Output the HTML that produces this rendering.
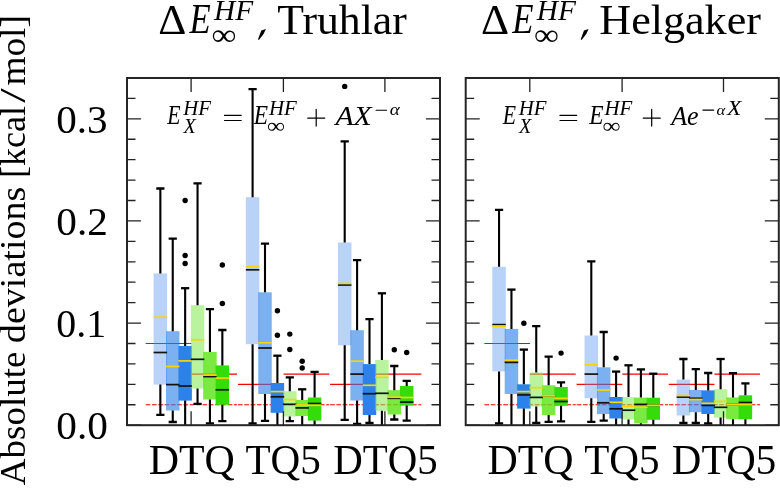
<!DOCTYPE html>
<html><head><meta charset="utf-8"><style>
html,body{margin:0;padding:0;background:#fff;width:780px;height:488px;overflow:hidden}
svg{display:block;will-change:transform}
text{font-family:"Liberation Serif",serif}
</style></head><body>
<svg width="780" height="488" viewBox="0 0 780 488">
<rect width="780" height="488" fill="#fff"/>
<line x1="145.7" y1="343.5" x2="191.35" y2="343.5" stroke="#ff0000" stroke-width="1.1"/>
<line x1="191.35" y1="374.13" x2="237" y2="374.13" stroke="#ff0000" stroke-width="1.1"/>
<line x1="145.7" y1="404.77" x2="237" y2="404.77" stroke="#ff0000" stroke-width="1.1" stroke-dasharray="4.7 1.6"/>
<line x1="237.95" y1="384.35" x2="283.6" y2="384.35" stroke="#ff0000" stroke-width="1.1"/>
<line x1="283.6" y1="374.13" x2="329.25" y2="374.13" stroke="#ff0000" stroke-width="1.1"/>
<line x1="237.95" y1="404.77" x2="329.25" y2="404.77" stroke="#ff0000" stroke-width="1.1" stroke-dasharray="4.7 1.6"/>
<line x1="330.05" y1="384.35" x2="375.7" y2="384.35" stroke="#ff0000" stroke-width="1.1"/>
<line x1="375.7" y1="374.13" x2="421.35" y2="374.13" stroke="#ff0000" stroke-width="1.1"/>
<line x1="330.05" y1="404.77" x2="421.35" y2="404.77" stroke="#ff0000" stroke-width="1.1" stroke-dasharray="4.7 1.6"/>
<rect x="153.6" y="273.4" width="13.5" height="111.2" fill="#508eee" fill-opacity="0.4"/>
<rect x="166" y="331.2" width="13.5" height="79.3" fill="#2c81e8" fill-opacity="0.62"/>
<rect x="178.4" y="346" width="13.5" height="54.6" fill="#2c82ea" fill-opacity="1.0"/>
<rect x="190.8" y="305.2" width="13.5" height="83.4" fill="#80e94f" fill-opacity="0.55"/>
<rect x="203.2" y="352" width="13.5" height="47.5" fill="#59e510" fill-opacity="0.8"/>
<rect x="215.6" y="365.4" width="13.5" height="39.4" fill="#34dc0a" fill-opacity="1.0"/>
<rect x="245.85" y="197.2" width="13.5" height="147" fill="#508eee" fill-opacity="0.4"/>
<rect x="258.25" y="292.3" width="13.5" height="101.7" fill="#2c81e8" fill-opacity="0.62"/>
<rect x="270.65" y="383" width="13.5" height="29.8" fill="#2c82ea" fill-opacity="1.0"/>
<rect x="283.05" y="391.2" width="13.5" height="25.3" fill="#80e94f" fill-opacity="0.55"/>
<rect x="295.45" y="400" width="13.5" height="16" fill="#59e510" fill-opacity="0.8"/>
<rect x="307.85" y="397.5" width="13.5" height="23.1" fill="#34dc0a" fill-opacity="1.0"/>
<rect x="337.95" y="242.5" width="13.5" height="102.8" fill="#508eee" fill-opacity="0.4"/>
<rect x="350.35" y="330.2" width="13.5" height="70.3" fill="#2c81e8" fill-opacity="0.62"/>
<rect x="362.75" y="364.1" width="13.5" height="50.9" fill="#2c82ea" fill-opacity="1.0"/>
<rect x="375.15" y="360" width="13.5" height="50.8" fill="#80e94f" fill-opacity="0.55"/>
<rect x="387.55" y="390.2" width="13.5" height="24.3" fill="#59e510" fill-opacity="0.8"/>
<rect x="399.95" y="386" width="13.5" height="19.5" fill="#34dc0a" fill-opacity="1.0"/>
<path d="M160.35 273.4V188.5M160.35 384.6V414.8" stroke="#000" stroke-width="2.1" fill="none"/>
<path d="M156.25 188.5H164.45M156.25 414.8H164.45" stroke="#000" stroke-width="2.3" fill="none"/>
<path d="M153.6 352.5H167.1" stroke="#111" stroke-width="1.7"/>
<path d="M153.6 317.2H167.1" stroke="#f8d600" stroke-width="1.7"/>
<path d="M172.75 331.2V238.6M172.75 410.5V422" stroke="#000" stroke-width="2.1" fill="none"/>
<path d="M168.65 238.6H176.85M168.65 422H176.85" stroke="#000" stroke-width="2.3" fill="none"/>
<path d="M166 384.6H179.5" stroke="#111" stroke-width="1.7"/>
<path d="M166 366.5H179.5" stroke="#f8d600" stroke-width="1.7"/>
<path d="M185.15 346V288.2M185.15 400.6V425.2" stroke="#000" stroke-width="2.1" fill="none"/>
<path d="M181.05 288.2H189.25" stroke="#000" stroke-width="2.3" fill="none"/>
<path d="M178.4 386H191.9" stroke="#111" stroke-width="1.7"/>
<path d="M178.4 360.9H191.9" stroke="#f8d600" stroke-width="1.7"/>
<circle cx="185.15" cy="200.5" r="2.7" fill="#000"/>
<circle cx="185.15" cy="255.5" r="2.7" fill="#000"/>
<circle cx="185.15" cy="263.5" r="2.7" fill="#000"/>
<path d="M197.55 305.2V183.3M197.55 388.6V403.8" stroke="#000" stroke-width="2.1" fill="none"/>
<path d="M193.45 183.3H201.65M193.45 403.8H201.65" stroke="#000" stroke-width="2.3" fill="none"/>
<path d="M190.8 359.3H204.3" stroke="#111" stroke-width="1.7"/>
<path d="M190.8 339.8H204.3" stroke="#f8d600" stroke-width="1.7"/>
<path d="M209.95 352V309.2M209.95 399.5V423.4" stroke="#000" stroke-width="2.1" fill="none"/>
<path d="M205.85 309.2H214.05M205.85 423.4H214.05" stroke="#000" stroke-width="2.3" fill="none"/>
<path d="M203.2 376.6H216.7" stroke="#111" stroke-width="1.7"/>
<path d="M203.2 375.1H216.7" stroke="#f8d600" stroke-width="1.7"/>
<path d="M222.35 365.4V330M222.35 404.8V421.1" stroke="#000" stroke-width="2.1" fill="none"/>
<path d="M218.25 330H226.45M218.25 421.1H226.45" stroke="#000" stroke-width="2.3" fill="none"/>
<path d="M215.6 389.8H229.1" stroke="#111" stroke-width="1.7"/>
<path d="M215.6 378.1H229.1" stroke="#f8d600" stroke-width="1.7"/>
<circle cx="222.35" cy="265" r="2.7" fill="#000"/>
<circle cx="222.35" cy="303.5" r="2.7" fill="#000"/>
<path d="M252.6 197.2V89.2M252.6 344.2V423.5" stroke="#000" stroke-width="2.1" fill="none"/>
<path d="M248.5 89.2H256.7M248.5 423.5H256.7" stroke="#000" stroke-width="2.3" fill="none"/>
<path d="M245.85 269.8H259.35" stroke="#111" stroke-width="1.7"/>
<path d="M245.85 266.7H259.35" stroke="#f8d600" stroke-width="1.7"/>
<path d="M265 292.3V243.6M265 394V420.8" stroke="#000" stroke-width="2.1" fill="none"/>
<path d="M260.9 243.6H269.1M260.9 420.8H269.1" stroke="#000" stroke-width="2.3" fill="none"/>
<path d="M258.25 348H271.75" stroke="#111" stroke-width="1.7"/>
<path d="M258.25 342.8H271.75" stroke="#f8d600" stroke-width="1.7"/>
<path d="M277.4 383V355.7M277.4 412.8V425.2" stroke="#000" stroke-width="2.1" fill="none"/>
<path d="M273.3 355.7H281.5" stroke="#000" stroke-width="2.3" fill="none"/>
<path d="M270.65 396.8H284.15" stroke="#111" stroke-width="1.7"/>
<path d="M270.65 391.6H284.15" stroke="#f8d600" stroke-width="1.7"/>
<circle cx="277.4" cy="310.7" r="2.7" fill="#000"/>
<circle cx="277.4" cy="335.2" r="2.7" fill="#000"/>
<path d="M289.8 391.2V377.4M289.8 416.5V421.2" stroke="#000" stroke-width="2.1" fill="none"/>
<path d="M285.7 377.4H293.9M285.7 421.2H293.9" stroke="#000" stroke-width="2.3" fill="none"/>
<path d="M283.05 404.3H296.55" stroke="#111" stroke-width="1.7"/>
<path d="M283.05 399.6H296.55" stroke="#f8d600" stroke-width="1.7"/>
<circle cx="289.8" cy="334.1" r="2.7" fill="#000"/>
<circle cx="289.8" cy="349.5" r="2.7" fill="#000"/>
<path d="M302.2 400V389.3M302.2 416V425.2" stroke="#000" stroke-width="2.1" fill="none"/>
<path d="M298.1 389.3H306.3" stroke="#000" stroke-width="2.3" fill="none"/>
<path d="M295.45 407.9H308.95" stroke="#111" stroke-width="1.7"/>
<path d="M295.45 405H308.95" stroke="#f8d600" stroke-width="1.7"/>
<circle cx="302.2" cy="361.2" r="2.7" fill="#000"/>
<circle cx="302.2" cy="368" r="2.7" fill="#000"/>
<path d="M314.6 397.5V371.9M314.6 420.6V425.2" stroke="#000" stroke-width="2.1" fill="none"/>
<path d="M310.5 371.9H318.7" stroke="#000" stroke-width="2.3" fill="none"/>
<path d="M307.85 403.5H321.35" stroke="#111" stroke-width="1.7"/>
<path d="M307.85 405.3H321.35" stroke="#f8d600" stroke-width="1.7"/>
<path d="M344.7 242.5V141.3M344.7 345.3V419.9" stroke="#000" stroke-width="2.1" fill="none"/>
<path d="M340.6 141.3H348.8M340.6 419.9H348.8" stroke="#000" stroke-width="2.3" fill="none"/>
<path d="M337.95 285H351.45" stroke="#111" stroke-width="1.7"/>
<path d="M337.95 283.4H351.45" stroke="#f8d600" stroke-width="1.7"/>
<circle cx="344.7" cy="86.4" r="2.7" fill="#000"/>
<path d="M357.1 330.2V260.1M357.1 400.5V423.9" stroke="#000" stroke-width="2.1" fill="none"/>
<path d="M353 260.1H361.2M353 423.9H361.2" stroke="#000" stroke-width="2.3" fill="none"/>
<path d="M350.35 374.1H363.85" stroke="#111" stroke-width="1.7"/>
<path d="M350.35 361.2H363.85" stroke="#f8d600" stroke-width="1.7"/>
<path d="M369.5 364.1V319.1M369.5 415V423" stroke="#000" stroke-width="2.1" fill="none"/>
<path d="M365.4 319.1H373.6M365.4 423H373.6" stroke="#000" stroke-width="2.3" fill="none"/>
<path d="M362.75 393.7H376.25" stroke="#111" stroke-width="1.7"/>
<path d="M362.75 385.3H376.25" stroke="#f8d600" stroke-width="1.7"/>
<path d="M381.9 360V293.3M381.9 410.8V425.2" stroke="#000" stroke-width="2.1" fill="none"/>
<path d="M377.8 293.3H386" stroke="#000" stroke-width="2.3" fill="none"/>
<path d="M375.15 393.3H388.65" stroke="#111" stroke-width="1.7"/>
<path d="M375.15 377.3H388.65" stroke="#f8d600" stroke-width="1.7"/>
<path d="M394.3 390.2V366M394.3 414.5V419.5" stroke="#000" stroke-width="2.1" fill="none"/>
<path d="M390.2 366H398.4M390.2 419.5H398.4" stroke="#000" stroke-width="2.3" fill="none"/>
<path d="M387.55 398.3H401.05" stroke="#111" stroke-width="1.7"/>
<path d="M387.55 397.3H401.05" stroke="#f8d600" stroke-width="1.7"/>
<circle cx="394.3" cy="349.7" r="2.7" fill="#000"/>
<path d="M406.7 386V380.9M406.7 405.5V420.6" stroke="#000" stroke-width="2.1" fill="none"/>
<path d="M402.6 380.9H410.8M402.6 420.6H410.8" stroke="#000" stroke-width="2.3" fill="none"/>
<path d="M399.95 402.1H413.45" stroke="#111" stroke-width="1.7"/>
<path d="M399.95 397.5H413.45" stroke="#f8d600" stroke-width="1.7"/>
<circle cx="406.7" cy="352.5" r="2.7" fill="#000"/>
<line x1="484.4" y1="343.5" x2="530.05" y2="343.5" stroke="#ff0000" stroke-width="1.1"/>
<line x1="530.05" y1="374.13" x2="575.7" y2="374.13" stroke="#ff0000" stroke-width="1.1"/>
<line x1="484.4" y1="404.77" x2="575.7" y2="404.77" stroke="#ff0000" stroke-width="1.1" stroke-dasharray="4.7 1.6"/>
<line x1="576.65" y1="384.35" x2="622.3" y2="384.35" stroke="#ff0000" stroke-width="1.1"/>
<line x1="622.3" y1="374.13" x2="667.95" y2="374.13" stroke="#ff0000" stroke-width="1.1"/>
<line x1="576.65" y1="404.77" x2="667.95" y2="404.77" stroke="#ff0000" stroke-width="1.1" stroke-dasharray="4.7 1.6"/>
<line x1="668.75" y1="384.35" x2="714.4" y2="384.35" stroke="#ff0000" stroke-width="1.1"/>
<line x1="714.4" y1="374.13" x2="760.05" y2="374.13" stroke="#ff0000" stroke-width="1.1"/>
<line x1="668.75" y1="404.77" x2="760.05" y2="404.77" stroke="#ff0000" stroke-width="1.1" stroke-dasharray="4.7 1.6"/>
<rect x="492.3" y="266.8" width="13.5" height="104.6" fill="#508eee" fill-opacity="0.4"/>
<rect x="504.7" y="328.9" width="13.5" height="65.1" fill="#2c81e8" fill-opacity="0.62"/>
<rect x="517.1" y="384.3" width="13.5" height="24.3" fill="#2c82ea" fill-opacity="1.0"/>
<rect x="529.5" y="372.6" width="13.5" height="33.9" fill="#80e94f" fill-opacity="0.55"/>
<rect x="541.9" y="385.3" width="13.5" height="29.7" fill="#59e510" fill-opacity="0.8"/>
<rect x="554.3" y="387" width="13.5" height="18.8" fill="#34dc0a" fill-opacity="1.0"/>
<rect x="584.55" y="335.5" width="13.5" height="62.8" fill="#508eee" fill-opacity="0.4"/>
<rect x="596.95" y="367.3" width="13.5" height="46.7" fill="#2c81e8" fill-opacity="0.62"/>
<rect x="609.35" y="397" width="13.5" height="21.5" fill="#2c82ea" fill-opacity="1.0"/>
<rect x="621.75" y="397.1" width="13.5" height="22.4" fill="#80e94f" fill-opacity="0.55"/>
<rect x="634.15" y="397.6" width="13.5" height="25.7" fill="#59e510" fill-opacity="0.8"/>
<rect x="646.55" y="397.7" width="13.5" height="22.1" fill="#34dc0a" fill-opacity="1.0"/>
<rect x="676.65" y="379.6" width="13.5" height="35.9" fill="#508eee" fill-opacity="0.4"/>
<rect x="689.05" y="390" width="13.5" height="22.2" fill="#2c81e8" fill-opacity="0.62"/>
<rect x="701.45" y="390.4" width="13.5" height="23.6" fill="#2c82ea" fill-opacity="1.0"/>
<rect x="713.85" y="389.2" width="13.5" height="28.4" fill="#80e94f" fill-opacity="0.55"/>
<rect x="726.25" y="397.4" width="13.5" height="21.8" fill="#59e510" fill-opacity="0.8"/>
<rect x="738.65" y="395.3" width="13.5" height="23.9" fill="#34dc0a" fill-opacity="1.0"/>
<path d="M499.05 266.8V209.9M499.05 371.4V423.5" stroke="#000" stroke-width="2.1" fill="none"/>
<path d="M494.95 209.9H503.15M494.95 423.5H503.15" stroke="#000" stroke-width="2.3" fill="none"/>
<path d="M492.3 324.6H505.8" stroke="#111" stroke-width="1.7"/>
<path d="M492.3 326.1H505.8" stroke="#f8d600" stroke-width="1.7"/>
<path d="M511.45 328.9V289.6M511.45 394V425.2" stroke="#000" stroke-width="2.1" fill="none"/>
<path d="M507.35 289.6H515.55" stroke="#000" stroke-width="2.3" fill="none"/>
<path d="M504.7 362.4H518.2" stroke="#111" stroke-width="1.7"/>
<path d="M504.7 360.2H518.2" stroke="#f8d600" stroke-width="1.7"/>
<path d="M523.85 384.3V349.6M523.85 408.6V425.2" stroke="#000" stroke-width="2.1" fill="none"/>
<path d="M519.75 349.6H527.95" stroke="#000" stroke-width="2.3" fill="none"/>
<path d="M517.1 394.9H530.6" stroke="#111" stroke-width="1.7"/>
<path d="M517.1 391.6H530.6" stroke="#f8d600" stroke-width="1.7"/>
<circle cx="523.85" cy="323.3" r="2.7" fill="#000"/>
<path d="M536.25 372.6V326.1M536.25 406.5V422.8" stroke="#000" stroke-width="2.1" fill="none"/>
<path d="M532.15 326.1H540.35M532.15 422.8H540.35" stroke="#000" stroke-width="2.3" fill="none"/>
<path d="M529.5 397.4H543" stroke="#111" stroke-width="1.7"/>
<path d="M529.5 387.7H543" stroke="#f8d600" stroke-width="1.7"/>
<path d="M548.65 385.3V356.6M548.65 415V421.8" stroke="#000" stroke-width="2.1" fill="none"/>
<path d="M544.55 356.6H552.75M544.55 421.8H552.75" stroke="#000" stroke-width="2.3" fill="none"/>
<path d="M541.9 395.8H555.4" stroke="#111" stroke-width="1.7"/>
<path d="M541.9 395.8H555.4" stroke="#f8d600" stroke-width="1.7"/>
<path d="M561.05 387V382.3M561.05 405.8V421.3" stroke="#000" stroke-width="2.1" fill="none"/>
<path d="M556.95 382.3H565.15M556.95 421.3H565.15" stroke="#000" stroke-width="2.3" fill="none"/>
<path d="M554.3 401.5H567.8" stroke="#111" stroke-width="1.7"/>
<path d="M554.3 398.3H567.8" stroke="#f8d600" stroke-width="1.7"/>
<circle cx="561.05" cy="353.1" r="2.7" fill="#000"/>
<path d="M591.3 335.5V261.4M591.3 398.3V421.8" stroke="#000" stroke-width="2.1" fill="none"/>
<path d="M587.2 261.4H595.4M587.2 421.8H595.4" stroke="#000" stroke-width="2.3" fill="none"/>
<path d="M584.55 374.1H598.05" stroke="#111" stroke-width="1.7"/>
<path d="M584.55 364.9H598.05" stroke="#f8d600" stroke-width="1.7"/>
<path d="M603.7 367.3V332M603.7 414V420.6" stroke="#000" stroke-width="2.1" fill="none"/>
<path d="M599.6 332H607.8M599.6 420.6H607.8" stroke="#000" stroke-width="2.3" fill="none"/>
<path d="M596.95 402.8H610.45" stroke="#111" stroke-width="1.7"/>
<path d="M596.95 390H610.45" stroke="#f8d600" stroke-width="1.7"/>
<path d="M616.1 397V371.6M616.1 418.5V425.2" stroke="#000" stroke-width="2.1" fill="none"/>
<path d="M612 371.6H620.2" stroke="#000" stroke-width="2.3" fill="none"/>
<path d="M609.35 408.8H622.85" stroke="#111" stroke-width="1.7"/>
<path d="M609.35 402.3H622.85" stroke="#f8d600" stroke-width="1.7"/>
<circle cx="616.1" cy="358.1" r="2.7" fill="#000"/>
<path d="M628.5 397.1V365.3M628.5 419.5V425.2" stroke="#000" stroke-width="2.1" fill="none"/>
<path d="M624.4 365.3H632.6" stroke="#000" stroke-width="2.3" fill="none"/>
<path d="M621.75 410.2H635.25" stroke="#111" stroke-width="1.7"/>
<path d="M621.75 406.4H635.25" stroke="#f8d600" stroke-width="1.7"/>
<path d="M640.9 397.6V369.4M640.9 423.3V425.2" stroke="#000" stroke-width="2.1" fill="none"/>
<path d="M636.8 369.4H645" stroke="#000" stroke-width="2.3" fill="none"/>
<path d="M634.15 404.4H647.65" stroke="#111" stroke-width="1.7"/>
<path d="M634.15 407.2H647.65" stroke="#f8d600" stroke-width="1.7"/>
<path d="M653.3 397.7V373.7M653.3 419.8V425.2" stroke="#000" stroke-width="2.1" fill="none"/>
<path d="M649.2 373.7H657.4" stroke="#000" stroke-width="2.3" fill="none"/>
<path d="M646.55 405.4H660.05" stroke="#111" stroke-width="1.7"/>
<path d="M646.55 405.4H660.05" stroke="#f8d600" stroke-width="1.7"/>
<path d="M683.4 379.6V359M683.4 415.5V423" stroke="#000" stroke-width="2.1" fill="none"/>
<path d="M679.3 359H687.5M679.3 423H687.5" stroke="#000" stroke-width="2.3" fill="none"/>
<path d="M676.65 397.1H690.15" stroke="#111" stroke-width="1.7"/>
<path d="M676.65 395.5H690.15" stroke="#f8d600" stroke-width="1.7"/>
<path d="M695.8 390V369.1M695.8 412.2V423" stroke="#000" stroke-width="2.1" fill="none"/>
<path d="M691.7 369.1H699.9M691.7 423H699.9" stroke="#000" stroke-width="2.3" fill="none"/>
<path d="M689.05 398.3H702.55" stroke="#111" stroke-width="1.7"/>
<path d="M689.05 399.5H702.55" stroke="#f8d600" stroke-width="1.7"/>
<path d="M708.2 390.4V373M708.2 414V423.5" stroke="#000" stroke-width="2.1" fill="none"/>
<path d="M704.1 373H712.3M704.1 423.5H712.3" stroke="#000" stroke-width="2.3" fill="none"/>
<path d="M701.45 405.4H714.95" stroke="#111" stroke-width="1.7"/>
<path d="M701.45 403.3H714.95" stroke="#f8d600" stroke-width="1.7"/>
<path d="M720.6 389.2V359M720.6 417.6V425.2" stroke="#000" stroke-width="2.1" fill="none"/>
<path d="M716.5 359H724.7" stroke="#000" stroke-width="2.3" fill="none"/>
<path d="M713.85 407.3H727.35" stroke="#111" stroke-width="1.7"/>
<path d="M713.85 401.4H727.35" stroke="#f8d600" stroke-width="1.7"/>
<path d="M733 397.4V373.2M733 419.2V425.2" stroke="#000" stroke-width="2.1" fill="none"/>
<path d="M728.9 373.2H737.1" stroke="#000" stroke-width="2.3" fill="none"/>
<path d="M726.25 404.3H739.75" stroke="#111" stroke-width="1.7"/>
<path d="M726.25 404.3H739.75" stroke="#f8d600" stroke-width="1.7"/>
<path d="M745.4 395.3V383.4M745.4 419.2V425.2" stroke="#000" stroke-width="2.1" fill="none"/>
<path d="M741.3 383.4H749.5" stroke="#000" stroke-width="2.3" fill="none"/>
<path d="M738.65 402.5H752.15" stroke="#111" stroke-width="1.7"/>
<path d="M738.65 404.5H752.15" stroke="#f8d600" stroke-width="1.7"/>
<path d="M127 425.2h14M440 425.2h-14M127 404.77h8.5M440 404.77h-8.5M127 384.35h8.5M440 384.35h-8.5M127 363.92h8.5M440 363.92h-8.5M127 343.5h8.5M440 343.5h-8.5M127 323.07h14M440 323.07h-14M127 302.64h8.5M440 302.64h-8.5M127 282.22h8.5M440 282.22h-8.5M127 261.79h8.5M440 261.79h-8.5M127 241.37h8.5M440 241.37h-8.5M127 220.94h14M440 220.94h-14M127 200.51h8.5M440 200.51h-8.5M127 180.09h8.5M440 180.09h-8.5M127 159.66h8.5M440 159.66h-8.5M127 139.24h8.5M440 139.24h-8.5M127 118.81h14M440 118.81h-14M127 98.38h8.5M440 98.38h-8.5M191.1 78v14M191.1 425.2v-14M283.4 78v14M283.4 425.2v-14M384.9 78v14M384.9 425.2v-14" stroke="#222" stroke-width="1.3" fill="none"/>
<rect x="127" y="78" width="313" height="347.2" fill="none" stroke="#252525" stroke-width="2"/>
<path d="M465.7 425.2h14M778.8 425.2h-14M465.7 404.77h8.5M778.8 404.77h-8.5M465.7 384.35h8.5M778.8 384.35h-8.5M465.7 363.92h8.5M778.8 363.92h-8.5M465.7 343.5h8.5M778.8 343.5h-8.5M465.7 323.07h14M778.8 323.07h-14M465.7 302.64h8.5M778.8 302.64h-8.5M465.7 282.22h8.5M778.8 282.22h-8.5M465.7 261.79h8.5M778.8 261.79h-8.5M465.7 241.37h8.5M778.8 241.37h-8.5M465.7 220.94h14M778.8 220.94h-14M465.7 200.51h8.5M778.8 200.51h-8.5M465.7 180.09h8.5M778.8 180.09h-8.5M465.7 159.66h8.5M778.8 159.66h-8.5M465.7 139.24h8.5M778.8 139.24h-8.5M465.7 118.81h14M778.8 118.81h-14M465.7 98.38h8.5M778.8 98.38h-8.5M529.8 78v14M529.8 425.2v-14M622.1 78v14M622.1 425.2v-14M723.5 78v14M723.5 425.2v-14" stroke="#222" stroke-width="1.3" fill="none"/>
<rect x="465.7" y="78" width="313.1" height="347.2" fill="none" stroke="#252525" stroke-width="2"/>
<text transform="translate(158.35 33.6) scale(1.0446 1)" font-size="41.82" font-style="normal" fill="#000">Δ</text>
<text transform="translate(189.45 33.19) scale(0.8402 1)" font-size="41.36" font-style="italic" fill="#000">E</text>
<text transform="translate(214.09 19.51) scale(1.0031 1)" font-size="29.24" font-style="italic" fill="#000">HF</text>
<text transform="translate(211.41 45.05) scale(1.1363 1)" font-size="30.53" font-style="normal" fill="#000">∞</text>
<path transform="translate(0 0)" d="M261.3 30.4L265.9 29.0Q264.2 34.6 259.1 39.8Q258.3 39.9 258.0 39.2Z" fill="#000"/>
<text transform="translate(277.23 34) scale(1.0590 1)" font-size="41.30" font-style="normal" fill="#000">Truhlar</text>
<text transform="translate(481.05 33.6) scale(1.0446 1)" font-size="41.82" font-style="normal" fill="#000">Δ</text>
<text transform="translate(512.15 33.19) scale(0.8402 1)" font-size="41.36" font-style="italic" fill="#000">E</text>
<text transform="translate(536.79 19.51) scale(1.0031 1)" font-size="29.24" font-style="italic" fill="#000">HF</text>
<text transform="translate(534.11 45.05) scale(1.1363 1)" font-size="30.53" font-style="normal" fill="#000">∞</text>
<path transform="translate(322.7 0)" d="M261.3 30.4L265.9 29.0Q264.2 34.6 259.1 39.8Q258.3 39.9 258.0 39.2Z" fill="#000"/>
<text transform="translate(599.28 34) scale(1.0573 1)" font-size="41.74" font-style="normal" fill="#000">Helgaker</text>
<text transform="translate(167.32 124.43) scale(0.7995 1)" font-size="27.27" font-style="italic" fill="#000">E</text>
<text transform="translate(183.31 115.48) scale(0.9540 1)" font-size="21.82" font-style="italic" fill="#000">HF</text>
<text transform="translate(183.5 133.09) scale(0.9567 1)" font-size="21.06" font-style="italic" fill="#000">X</text>
<path d="M224.5 115.4H241.2M224.5 120.5H241.2" stroke="#000" stroke-width="1.2" stroke-linecap="round"/>
<text transform="translate(253.63 124.44) scale(0.8892 1)" font-size="26.36" font-style="italic" fill="#000">E</text>
<text transform="translate(269.01 115.28) scale(0.9574 1)" font-size="21.82" font-style="italic" fill="#000">HF</text>
<text transform="translate(266.99 132.56) scale(1.1730 1)" font-size="21.58" font-style="normal" fill="#000">∞</text>
<path d="M307.7 118.1H324.8M316.2 109.3V126.1" stroke="#000" stroke-width="1.2" stroke-linecap="round"/>
<text transform="translate(502.82 124.43) scale(0.7995 1)" font-size="27.27" font-style="italic" fill="#000">E</text>
<text transform="translate(518.81 115.48) scale(0.9540 1)" font-size="21.82" font-style="italic" fill="#000">HF</text>
<text transform="translate(519 133.09) scale(0.9567 1)" font-size="21.06" font-style="italic" fill="#000">X</text>
<path d="M560 115.4H576.7M560 120.5H576.7" stroke="#000" stroke-width="1.2" stroke-linecap="round"/>
<text transform="translate(589.13 124.44) scale(0.8892 1)" font-size="26.36" font-style="italic" fill="#000">E</text>
<text transform="translate(604.51 115.28) scale(0.9574 1)" font-size="21.82" font-style="italic" fill="#000">HF</text>
<text transform="translate(602.49 132.56) scale(1.1730 1)" font-size="21.58" font-style="normal" fill="#000">∞</text>
<path d="M643.2 118.1H660.3M651.7 109.3V126.1" stroke="#000" stroke-width="1.2" stroke-linecap="round"/>
<text transform="translate(335.39 124.63) scale(1.1143 1)" font-size="26.72" font-style="italic" fill="#000">AX</text>
<path d="M376.1 110.2H386.6M702.9 110.1H713.7" stroke="#000" stroke-width="1.15" stroke-linecap="round"/>
<text transform="translate(389.72 114.83) scale(1.1529 1)" font-size="16.67" font-style="italic" fill="#000">α</text>
<text transform="translate(671.16 124.63) scale(0.9752 1)" font-size="26.72" font-style="italic" fill="#000">Ae</text>
<text transform="translate(716.6 114.85) scale(1.0811 1)" font-size="15.42" font-style="italic" fill="#000">α</text>
<text transform="translate(727.01 114.8) scale(1.1615 1)" font-size="20.30" font-style="italic" fill="#000">X</text>
<text transform="translate(148.74 473.6) scale(1.0090 1)" font-size="41.52" font-style="normal" fill="#000">DTQ</text>
<text transform="translate(245.48 473.6) scale(0.9906 1)" font-size="41.52" font-style="normal" fill="#000">TQ5</text>
<text transform="translate(333.17 473.6) scale(0.9848 1)" font-size="41.52" font-style="normal" fill="#000">DTQ5</text>
<text transform="translate(487.44 473.6) scale(1.0090 1)" font-size="41.52" font-style="normal" fill="#000">DTQ</text>
<text transform="translate(584.18 473.6) scale(0.9906 1)" font-size="41.52" font-style="normal" fill="#000">TQ5</text>
<text transform="translate(671.87 473.6) scale(0.9848 1)" font-size="41.52" font-style="normal" fill="#000">DTQ5</text>
<text transform="translate(56.25 438.98) scale(1.0062 1)" font-size="41.03" font-style="normal" fill="#000">0.0</text>
<text transform="translate(56.31 336.85) scale(0.9717 1)" font-size="41.03" font-style="normal" fill="#000">0.1</text>
<text transform="translate(56.25 234.72) scale(1.0064 1)" font-size="41.03" font-style="normal" fill="#000">0.2</text>
<text transform="translate(56.26 132.59) scale(1.0020 1)" font-size="41.03" font-style="normal" fill="#000">0.3</text>
<text transform="translate(24.8 485.17) rotate(-90) scale(1.0297 1)" font-size="35.91">Absolute</text>
<text transform="translate(24.8 343.14) rotate(-90) scale(1.0610 1)" font-size="35.91">deviations</text>
<text transform="translate(24.8 177.92) rotate(-90) scale(1.0017 1)" font-size="35.91">[kcal</text>
<text transform="translate(24.8 102.7) rotate(-90) scale(1.4620 1)" font-size="35.91">/</text>
<text transform="translate(24.8 85.55) rotate(-90) scale(1.0381 1)" font-size="35.91">mol]</text>
</svg></body></html>
